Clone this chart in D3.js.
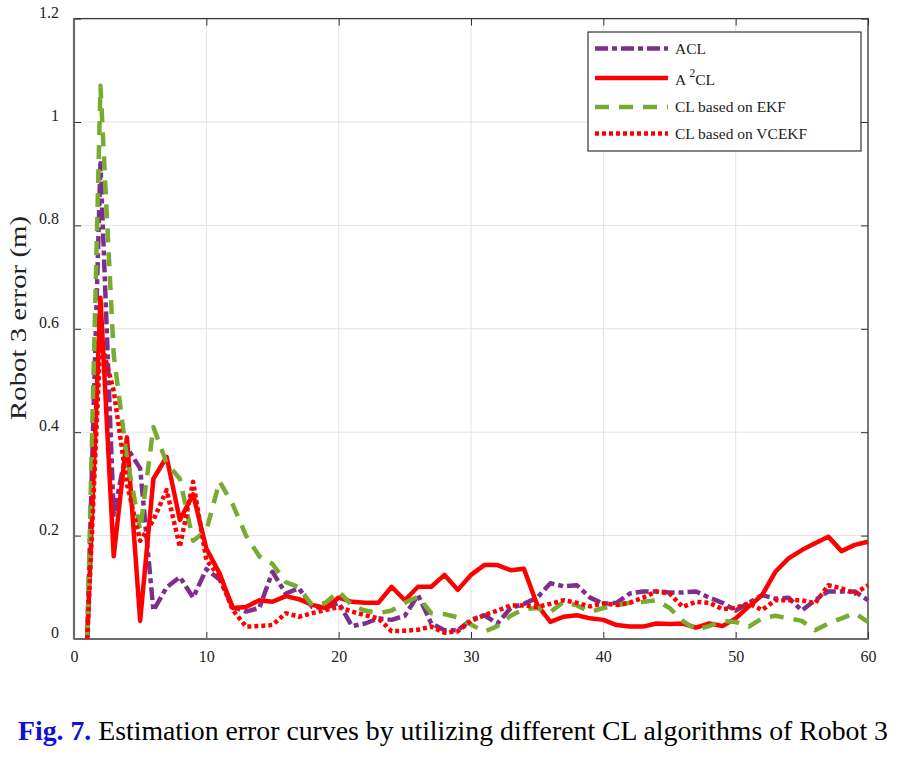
<!DOCTYPE html>
<html>
<head>
<meta charset="utf-8">
<script src="https://cdn.jsdelivr.net/npm/d3@7"></script>
<style>
  html, body { margin: 0; padding: 0; background: #fff; }
  svg { display: block; }
</style>
</head>
<body>
<svg id="chart" width="906" height="758"></svg>
<script>
// ---- data ----
const steps = d3.range(1, 61);
const acl = [0, 0.92, 0.24, 0.37, 0.33, 0.055, 0.10, 0.12, 0.08, 0.135,
  0.115, 0.062, 0.053, 0.06, 0.13, 0.088, 0.098, 0.062, 0.06, 0.07,
  0.025, 0.03, 0.04, 0.037, 0.045, 0.085, 0.03, 0.017, 0.017, 0.037,
  0.046, 0.03, 0.06, 0.068, 0.08, 0.108, 0.102, 0.104, 0.08, 0.068,
  0.07, 0.088, 0.092, 0.092, 0.09, 0.09, 0.092, 0.08, 0.07, 0.055,
  0.07, 0.085, 0.078, 0.08, 0.055, 0.075, 0.092, 0.092, 0.092, 0.075];
const a2cl = [0, 0.66, 0.16, 0.39, 0.035, 0.31, 0.352, 0.23, 0.28, 0.175,
  0.127, 0.06, 0.062, 0.075, 0.072, 0.083, 0.077, 0.066, 0.06, 0.08,
  0.072, 0.07, 0.07, 0.101, 0.075, 0.101, 0.101, 0.124, 0.095, 0.124,
  0.143, 0.143, 0.133, 0.136, 0.066, 0.033, 0.043, 0.046, 0.04, 0.037,
  0.027, 0.024, 0.024, 0.03, 0.029, 0.03, 0.022, 0.03, 0.025, 0.04,
  0.063, 0.085, 0.13, 0.156, 0.172, 0.185, 0.198, 0.17, 0.182, 0.188];
const ekf = [0, 1.07, 0.55, 0.35, 0.21, 0.41, 0.34, 0.31, 0.19, 0.21,
  0.305, 0.26, 0.2, 0.16, 0.145, 0.11, 0.1, 0.065, 0.07, 0.092,
  0.065, 0.055, 0.05, 0.055, 0.07, 0.082, 0.05, 0.048, 0.042, 0.028,
  0.014, 0.025, 0.045, 0.058, 0.06, 0.052, 0.072, 0.065, 0.052, 0.06,
  0.065, 0.07, 0.072, 0.075, 0.06, 0.035, 0.018, 0.025, 0.035, 0.033,
  0.024, 0.04, 0.045, 0.04, 0.035, 0.017, 0.03, 0.04, 0.05, 0.033];
const vcekf = [0, 0.58, 0.48, 0.3, 0.19, 0.23, 0.288, 0.178, 0.304, 0.153,
  0.12, 0.056, 0.024, 0.025, 0.027, 0.05, 0.043, 0.05, 0.056, 0.062,
  0.053, 0.046, 0.04, 0.015, 0.016, 0.018, 0.024, 0.012, 0.015, 0.035,
  0.046, 0.055, 0.065, 0.065, 0.062, 0.068, 0.075, 0.07, 0.063, 0.069,
  0.066, 0.07, 0.08, 0.092, 0.088, 0.062, 0.072, 0.07, 0.058, 0.06,
  0.069, 0.056, 0.075, 0.075, 0.075, 0.069, 0.104, 0.098, 0.088, 0.104];

const seriesNames = ["ACL", "A2CL", "CL based on EKF", "CL based on VCEKF"];
const seriesValues = [acl, a2cl, ekf, vcekf];
const xTicks = [0, 10, 20, 30, 40, 50, 60];
const yTicks = [0, 0.2, 0.4, 0.6, 0.8, 1, 1.2];
const yTickLabels = ["0", "0.2", "0.4", "0.6", "0.8", "1", "1.2"];

// ---- styles ----
const styles = [
  { color: "#7E2F8E", dash: "13,4,5,4", width: 4.5 },
  { color: "#FF0000", dash: null, width: 4.5 },
  { color: "#77AC30", dash: "14,10", width: 4.5 },
  { color: "#FF0000", dash: "4,3", width: 4.5 }
];

const svg = d3.select("#chart");
const L = 74, R = 868, T = 18.6, B = 639;
const x = d3.scaleLinear().domain([0, 60]).range([L, R]);
const y = d3.scaleLinear().domain([0, 1.2]).range([B, T]);
const serif = "'Liberation Serif', 'DejaVu Serif', serif";

svg.append("rect").attr("width", 906).attr("height", 758).attr("fill", "#fff");

// grid
const grid = svg.append("g");
grid.selectAll(".gx").data(xTicks).join("line")
  .attr("x1", d => x(d)).attr("x2", d => x(d)).attr("y1", T).attr("y2", B)
  .attr("stroke", "#e3e3e3").attr("stroke-width", 1);
grid.selectAll(".gy").data(yTicks).join("line")
  .attr("y1", d => y(d)).attr("y2", d => y(d)).attr("x1", L).attr("x2", R)
  .attr("stroke", "#e3e3e3").attr("stroke-width", 1);

// axes (inward ticks, mirrored)
const axisStyle = g => {
  g.selectAll("path.domain").remove();
  g.selectAll("line").attr("stroke", "#333").attr("stroke-width", 1);
  g.selectAll("text").attr("font-family", serif).attr("font-size", 16).attr("fill", "#222");
};
svg.append("g").attr("transform", `translate(0,${B})`)
  .call(d3.axisBottom(x).tickValues(xTicks).tickSizeInner(-7).tickSizeOuter(0).tickPadding(12).tickFormat(d3.format("d")))
  .call(axisStyle);
svg.append("g").attr("transform", `translate(0,${T})`)
  .call(d3.axisTop(x).tickValues(xTicks).tickSizeInner(-7).tickSizeOuter(0).tickFormat(""))
  .call(axisStyle);
svg.append("g").attr("transform", `translate(${L},0)`)
  .call(d3.axisLeft(y).tickValues(yTicks).tickSizeInner(-7).tickSizeOuter(0).tickPadding(15)
    .tickFormat((d, i) => yTickLabels[i]))
  .call(axisStyle)
  .call(g => g.selectAll("text").attr("dy", "-0.1em"));
svg.append("g").attr("transform", `translate(${R},0)`)
  .call(d3.axisRight(y).tickValues(yTicks).tickSizeInner(-7).tickSizeOuter(0).tickFormat(""))
  .call(axisStyle);

// box
svg.append("rect").attr("x", L).attr("y", T).attr("width", R - L).attr("height", B - T)
  .attr("fill", "none").attr("stroke", "#3a3a3a").attr("stroke-width", 1.3);
svg.append("line").attr("x1", L).attr("x2", R).attr("y1", B).attr("y2", B)
  .attr("stroke", "#6a6a6a").attr("stroke-width", 2.2);
svg.append("line").attr("x1", L).attr("x2", L).attr("y1", T).attr("y2", B)
  .attr("stroke", "#6a6a6a").attr("stroke-width", 2.2);

// lines
const line = d3.line().x((d, i) => x(steps[i])).y(d => y(d));
seriesValues.forEach((vals, k) => {
  const st = styles[k];
  const p = svg.append("path").datum(vals)
    .attr("d", line)
    .attr("fill", "none")
    .attr("stroke", st.color)
    .attr("stroke-width", st.width)
    .attr("stroke-linejoin", "round");
  if (st.dash) p.attr("stroke-dasharray", st.dash);
});

// y label
svg.append("text")
  .attr("transform", "translate(26,318) rotate(-90)")
  .attr("text-anchor", "middle")
  .attr("font-family", serif).attr("font-size", 23).attr("fill", "#222")
  .attr("textLength", 204).attr("lengthAdjust", "spacingAndGlyphs")
  .text("Robot 3 error (m)");

// legend
const lg = svg.append("g");
lg.append("rect").attr("x", 588).attr("y", 32).attr("width", 273).attr("height", 119)
  .attr("fill", "#fff").attr("stroke", "#333").attr("stroke-width", 1.2);
const lyLine = [48.5, 78, 107, 133.5];
seriesNames.forEach((name, k) => {
  const st = styles[k];
  const l = lg.append("line").attr("x1", 595).attr("x2", 668)
    .attr("y1", lyLine[k]).attr("y2", lyLine[k])
    .attr("stroke", st.color).attr("stroke-width", st.width);
  if (st.dash) l.attr("stroke-dasharray", st.dash);
  const t = lg.append("text").attr("x", 675).attr("y", lyLine[k] + 5)
    .attr("font-family", serif).attr("font-size", 15.5).attr("fill", "#222");
  if (name === "A2CL") {
    t.attr("y", lyLine[k] + 7);
    t.append("tspan").text("A ");
    t.append("tspan").attr("dy", -8).attr("font-size", 12).text("2");
    t.append("tspan").attr("dy", 8).text("CL");
  } else {
    t.text(name);
  }
});

// caption
const cap = svg.append("text").attr("x", 18).attr("y", 740)
  .attr("font-family", "'Liberation Serif', 'Times New Roman', serif")
  .attr("font-size", 28)
  .attr("textLength", 870).attr("lengthAdjust", "spacingAndGlyphs");
cap.append("tspan").attr("fill", "#1010d0").attr("font-weight", "bold").text("Fig. 7.");
cap.append("tspan").attr("fill", "#000").text(" Estimation error curves by utilizing different CL algorithms of Robot 3");
</script>
</body>
</html>
